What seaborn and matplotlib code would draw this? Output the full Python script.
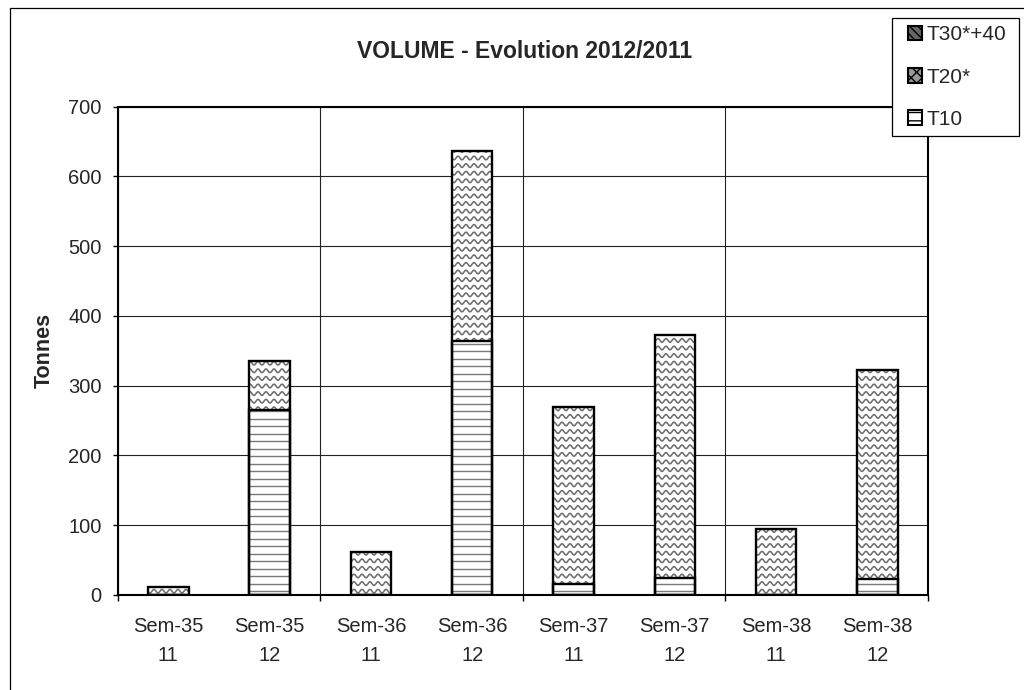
import numpy as np
import pandas as pd
import matplotlib
matplotlib.use('Agg')
import matplotlib.pyplot as plt
from matplotlib.collections import LineCollection
from matplotlib.legend_handler import HandlerPatch
from matplotlib.patches import Patch, Rectangle
from matplotlib.transforms import IdentityTransform
import seaborn as sns

# data (tonnes)
weeks = ['Sem-35', 'Sem-35', 'Sem-36', 'Sem-36', 'Sem-37', 'Sem-37', 'Sem-38', 'Sem-38']
years = ['11', '12', '11', '12', '11', '12', '11', '12']
t10 = [0, 265, 0, 364, 16, 24, 0, 23]
t20 = [12, 71, 61, 272, 253, 348, 94, 300]
t30_40 = [0, 0, 0, 0, 0, 0, 0, 0]
series_names = ['T10', 'T20*', 'T30*+40']


def waves(bbox, step=7.6, wave=8.0, amp=1.8):
    """Zigzag rows (pixel coords) covering a bbox."""
    xs = np.arange(bbox.x0 - wave, bbox.x1 + wave, 0.5)
    segs = []
    for y in np.arange(bbox.y0 + step / 2, bbox.y1 + step, step):
        segs.append(np.column_stack([xs, y + amp * np.sin(2 * np.pi * xs / wave)]))
    return segs


def stripes(bbox, step=7.5):
    """Horizontal lines (pixel coords) covering a bbox."""
    segs = []
    for y in np.arange(bbox.y0 + step / 2, bbox.y1, step):
        segs.append(np.array([[bbox.x0 - 2, y], [bbox.x1 + 2, y]]))
    return segs


def add_texture(ax, container, maker, color, z, lw=1.0):
    for bar in container.patches:
        if bar.get_height() <= 0:
            continue
        lc = LineCollection(maker(bar.get_window_extent()), colors=color,
                            linewidths=lw, transform=IdentityTransform(), zorder=z)
        ax.add_collection(lc, autolim=False)
        # clip after adding, otherwise the axes patch replaces it
        lc.set_clip_path(bar)


def main():
    sns.set_theme(style='white')
    plt.rcParams['font.family'] = ['Liberation Sans', 'DejaVu Sans']

    df = pd.DataFrame({'cat': [w + '\n' + y for w, y in zip(weeks, years)],
                       'T10': t10, 'T20*': t20, 'T30*+40': t30_40})
    df['low'] = df['T10']
    df['mid'] = df['T10'] + df['T20*']
    df['top'] = df['mid'] + df['T30*+40']
    order = list(df['cat'])

    fig = plt.figure(figsize=(10.24, 6.9), dpi=100)
    ax = fig.add_axes([117.7 / 1024, 95 / 690, 810.3 / 1024, 488.5 / 690])

    # stacked bars: totals first, then lower segment over them
    sns.barplot(data=df, x='cat', y='mid', order=order, color='white', saturation=1,
                width=0.4, linewidth=0, ax=ax, zorder=2)
    mid_bars = ax.containers[-1]
    sns.barplot(data=df, x='cat', y='low', order=order, color='white', saturation=1,
                width=0.4, linewidth=0, ax=ax, zorder=2.2)
    low_bars = ax.containers[-1]
    for col in ['mid', 'low']:
        sns.barplot(data=df, x='cat', y=col, order=order, fill=False, color='black',
                    saturation=1, width=0.4, linewidth=1.7, ax=ax, zorder=3)

    ax.set_xlim(-0.5, len(order) - 0.5)
    ax.set_ylim(0, 700)
    ax.set_yticks(range(0, 701, 100))
    ax.set_xticks(range(len(order)))
    ax.set_xticklabels(order, linespacing=1.7)
    ax.set_xticks(np.arange(-0.5, len(order), 2), minor=True)

    add_texture(ax, mid_bars, waves, '#6e6e6e', 2.1, lw=1.15)
    add_texture(ax, low_bars, stripes, '#7a7a7a', 2.3)

    ax.set_axisbelow(True)
    ax.grid(axis='y', which='major', color='#222222', linewidth=0.8)
    ax.grid(axis='x', which='minor', color='#222222', linewidth=0.8)
    ax.grid(axis='x', which='major', visible=False)
    for sp in ax.spines.values():
        sp.set_visible(True)
        sp.set_color('black')
        sp.set_linewidth(1.5)

    ax.tick_params(axis='y', which='major', direction='out', length=3.6, width=1,
                   color='black', pad=8, labelsize=14.5, left=True)
    ax.tick_params(axis='x', which='major', length=0, pad=15.5, labelsize=14.5)
    ax.tick_params(axis='x', which='minor', direction='out', length=4.5, width=1,
                   color='black', bottom=True)
    ax.set_xlabel('')
    ax.set_ylabel('Tonnes', fontsize=15.5, fontweight='bold', va='center')
    ax.yaxis.set_label_coords(-0.091, 0.5)

    fig.text(525 / 1024, (690 - 58.3) / 690, 'VOLUME - Evolution 2012/2011',
             ha='center', va='baseline', fontsize=16.5, fontweight='bold')

    # outer chart border (only left and top edges visible)
    fig.patches.append(Rectangle((9.5 / 1024, -0.5), 2, (690 - 7.5) / 690 + 0.5,
                                 transform=fig.transFigure, fill=False,
                                 edgecolor='black', linewidth=0.9, zorder=0))

    handles = [
        Patch(facecolor='#666666', edgecolor='black', hatch='\\\\\\\\', linewidth=1.5),
        Patch(facecolor='#999999', edgecolor='black', hatch='xxx', linewidth=1.5),
        Patch(facecolor='white', edgecolor='black', hatch='--', linewidth=1.5),
    ]
    leg_top = (690 - 18) / 690
    leg = fig.legend(handles, series_names[::-1], loc='upper left',
                     bbox_to_anchor=(892 / 1024, leg_top - 0.01, 126.5 / 1024, 0.01),
                     mode='expand', handler_map={Patch: HandlerPatch(xpad=0.4)},
                     fontsize=15, frameon=True, fancybox=False, shadow=False,
                     framealpha=1, edgecolor='black', borderpad=0.35,
                     labelspacing=1.12, handlelength=1.1, handleheight=0.7,
                     handletextpad=0.2, borderaxespad=0)
    leg.get_frame().set_linewidth(0.9)
    leg.set_zorder(10)

    fig.savefig('out.png', dpi=100)


if __name__ == '__main__':
    main()
